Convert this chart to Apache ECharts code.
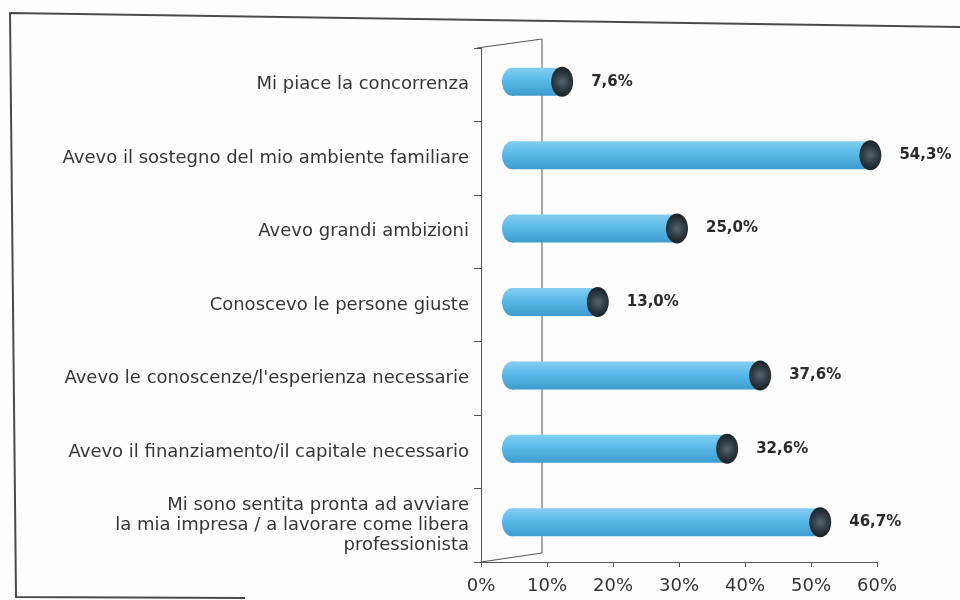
<!DOCTYPE html>
<html>
<head>
<meta charset="utf-8">
<script src="https://cdn.jsdelivr.net/npm/echarts@6/dist/echarts.min.js"></script>
<style>
  html, body { margin: 0; padding: 0; background: #fdfdfd; }
  #chart { width: 960px; height: 600px; }
</style>
</head>
<body>
<div id="chart"></div>
<script>
// Motivations for starting a business (multiple answers, % of respondents)
const categories = [
  'Mi piace la concorrenza',
  'Avevo il sostegno del mio ambiente familiare',
  'Avevo grandi ambizioni',
  'Conoscevo le persone giuste',
  'Avevo le conoscenze/l\'esperienza necessarie',
  'Avevo il finanziamento/il capitale necessario',
  'Mi sono sentita pronta ad avviare\nla mia impresa / a lavorare come libera\nprofessionista'
];
const values = [7.6, 54.3, 25.0, 13.0, 37.6, 32.6, 46.7];
const tickValues = [0, 10, 20, 30, 40, 50, 60];

// Plot area geometry (front plane of the pseudo-3D box)
const GRID = { left: 481, right: 83, top: 48, bottom: 38 };
const DEPTH_X = 61, DEPTH_Y = -9;        // back wall offset
const BAR_DX = 31, BAR_DY = -3;          // cylinders sit halfway into the box
const BAR_H = 28, CAP_RX = 11, CAP_RY = 15;

const fmt = v => v.toFixed(1).replace('.', ',') + '%';

const chart = echarts.init(document.getElementById('chart'), null, { renderer: 'canvas' });

const bodyFill = new echarts.graphic.LinearGradient(0, 0, 0, 1, [
  { offset: 0, color: '#84cef2' },
  { offset: 0.45, color: '#5ab9e8' },
  { offset: 1, color: '#3e9bd0' }
]);
const capFill = new echarts.graphic.RadialGradient(0.5, 0.5, 0.6, [
  { offset: 0, color: '#56656c' },
  { offset: 0.55, color: '#323f46' },
  { offset: 1, color: '#1c262b' }
]);

function renderCylinder(params, api) {
  const idx = api.value(1);
  const v = api.value(0);
  const p0 = api.coord([0, idx]);
  const p1 = api.coord([v, idx]);
  const x0 = p0[0] + BAR_DX, x1 = p1[0] + BAR_DX, cy = p0[1] + BAR_DY;
  return {
    type: 'group',
    children: [
      { type: 'ellipse', shape: { cx: x0, cy: cy, rx: CAP_RX - 1, ry: BAR_H / 2 }, style: { fill: bodyFill } },
      { type: 'rect', shape: { x: x0, y: cy - BAR_H / 2, width: x1 - x0, height: BAR_H }, style: { fill: bodyFill } },
      { type: 'ellipse', shape: { cx: x1, cy: cy, rx: CAP_RX, ry: CAP_RY }, style: { fill: capFill } },
      {
        type: 'text',
        style: {
          x: x1 + 29, y: cy, text: fmt(v),
          font: 'bold 15px "DejaVu Sans", sans-serif',
          fill: '#2a2a2a', verticalAlign: 'middle', align: 'left'
        }
      }
    ]
  };
}

const H = 600, W = 960;
const fx = GRID.left, ftop = GRID.top, fbot = H - GRID.bottom;

chart.setOption({
  backgroundColor: '#fdfdfd',
  animation: false,
  grid: { left: GRID.left, right: GRID.right, top: GRID.top, bottom: GRID.bottom, containLabel: false },
  xAxis: {
    type: 'value', min: 0, max: 60, interval: 10,
    axisLine: { show: true, lineStyle: { color: '#555', width: 1 } },
    axisTick: { show: true, length: 5, lineStyle: { color: '#555' } },
    splitLine: { show: false },
    axisLabel: {
      formatter: '{value}%', margin: 15, color: '#333',
      fontFamily: 'DejaVu Sans', fontSize: 18
    }
  },
  yAxis: {
    type: 'category', inverse: true, data: categories,
    axisLine: { show: true, lineStyle: { color: '#555', width: 1 } },
    axisTick: { show: true, length: 7, lineStyle: { color: '#555' } },
    axisLabel: {
      margin: 12, color: '#363636', align: 'right',
      fontFamily: 'DejaVu Sans', fontSize: 18, lineHeight: 20
    }
  },
  graphic: [
    // side wall and floor edge of the box
    {
      type: 'polyline', z: 0, silent: true,
      shape: { points: [[fx - 4, ftop], [fx + DEPTH_X, ftop + DEPTH_Y], [fx + DEPTH_X, fbot + DEPTH_Y], [fx, fbot]] },
      style: { stroke: '#555', lineWidth: 1, fill: null }
    },
    // page frame
    {
      type: 'polyline', z: 0, silent: true,
      shape: { points: [[W, 27], [10, 13], [16, 597], [245, 598]] },
      style: { stroke: '#4a4a4a', lineWidth: 2, fill: null }
    }
  ],
  series: [{
    type: 'custom',
    z: 5,
    renderItem: renderCylinder,
    encode: { x: 0, y: 1 },
    data: values.map((v, i) => [v, i])
  }]
});
</script>
</body>
</html>
